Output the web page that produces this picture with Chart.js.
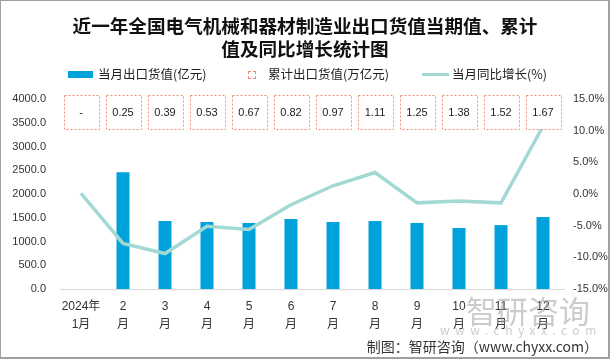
<!DOCTYPE html>
<html>
<head>
<meta charset="utf-8">
<script src="https://cdn.jsdelivr.net/npm/chart.js@4.4.1/dist/chart.umd.min.js"></script>
<style>
  html, body { margin: 0; padding: 0; background: #fff; }
  #wrap { position: relative; width: 610px; height: 359px; overflow: hidden; font-family: 'Noto Sans CJK SC', sans-serif; }
  #frame { position: absolute; left: 0; top: 0; width: 607px; height: 356px; border: 1px solid #a0a0a0; border-width: 1px 2px 2px 1px; pointer-events: none; }
  canvas { position: absolute; left: 0; top: 0; }
  .title { position: absolute; left: 0; width: 610px; text-align: center; font-weight: bold; font-size: 18.6px; color: #111; line-height: 23px; top: 13px; }
  .leg { position: absolute; font-size: 12.5px; color: #222; line-height: 16px; top: 66px; white-space: nowrap; }
  .mark { position: absolute; }
  .foot { position: absolute; right: 12px; top: 336px; font-size: 14px; color: #333; line-height: 20px; white-space: nowrap; }
  .wm { position: absolute; color: rgba(150,155,162,0.5); white-space: nowrap; }
</style>
</head>
<body>
<div id="wrap">
  <canvas id="c" width="610" height="359"></canvas>
  <div class="title">近一年全国电气机械和器材制造业出口货值当期值、累计<br>值及同比增长统计图</div>
  <div class="mark" style="left:68px;top:71px;width:25px;height:7px;background:#00a2dc;"></div>
  <div class="leg" style="left:98px;">当月出口货值(亿元)</div>
  <div class="mark" style="left:248px;top:71px;width:6px;height:6px;border:1px dashed #f08a75;"></div>
  <div class="leg" style="left:268px;">累计出口货值(万亿元)</div>
  <div class="mark" style="left:422px;top:73px;width:27px;height:3px;background:#a3d9d5;"></div>
  <div class="leg" style="left:452px;">当月同比增长(%)</div>
  <div class="wm" style="left:466px;top:292px;font-size:31px;line-height:36px;">智研咨询</div>
  <div class="wm" style="left:440px;top:323px;font-size:12px;letter-spacing:5.5px;line-height:14px;">www.chyxx.com</div>
  <div class="foot">制图：智研咨询（www.chyxx.com）</div>
  <div id="frame"></div>
</div>
<script>
const categories = [['2024年','1月'],['2','月'],['3','月'],['4','月'],['5','月'],['6','月'],['7','月'],['8','月'],['9','月'],['10','月'],['11','月'],['12','月']];
const monthlyValue = [null, 2460, 1430, 1410, 1390, 1475, 1410, 1430, 1390, 1285, 1345, 1515];
const cumulativeValue = ['-', '0.25', '0.39', '0.53', '0.67', '0.82', '0.97', '1.11', '1.25', '1.38', '1.52', '1.67'];
const yoyGrowth = [0.1, -7.8, -9.4, -5.1, -5.6, -1.7, 1.3, 3.4, -1.4, -1.1, -1.4, 10.7];
const leftTicks = [0, 500, 1000, 1500, 2000, 2500, 3000, 3500, 4000];
const rightTicks = [-15, -10, -5, 0, 5, 10, 15];

const boxPlugin = {
  id: 'cumBoxes',
  afterDatasetsDraw(chart) {
    const ctx = chart.ctx;
    const xs = chart.scales.x;
    ctx.save();
    cumulativeValue.forEach((v, i) => {
      const cx = xs.getPixelForValue(i);
      const w = 35, h = 34, top = 95;
      ctx.fillStyle = '#fff';
      ctx.fillRect(cx - w / 2, top, w, h);
      ctx.setLineDash([2, 2]);
      ctx.strokeStyle = '#f08a75';
      ctx.lineWidth = 1;
      ctx.strokeRect(Math.round(cx - w / 2) + 0.5, top + 0.5, w, h);
      ctx.setLineDash([]);
      ctx.fillStyle = '#222';
      ctx.font = '11px "Liberation Sans", "Noto Sans CJK SC", sans-serif';
      ctx.textAlign = 'center';
      ctx.textBaseline = 'middle';
      ctx.fillText(v, cx, top + h / 2 + 1);
    });
    ctx.restore();
  }
};

new Chart(document.getElementById('c'), {
  data: {
    labels: categories,
    datasets: [
      {
        type: 'line', label: '当月同比增长(%)', data: yoyGrowth, yAxisID: 'y1',
        borderColor: '#a3d9d5', borderWidth: 3.5, pointRadius: 0, tension: 0, order: 0
      },
      {
        type: 'bar', label: '当月出口货值(亿元)', data: monthlyValue, yAxisID: 'y',
        backgroundColor: '#00a2dc', barPercentage: 0.31, categoryPercentage: 1, order: 1
      }
    ]
  },
  options: {
    responsive: false,
    animation: false,
    layout: { padding: { top: 99, left: 0, right: 0, bottom: 0 } },
    plugins: { legend: { display: false }, tooltip: { enabled: false }, title: { display: false } },
    scales: {
      x: {
        grid: { display: false, drawTicks: false },
        border: { display: true, color: '#d9d9d9', width: 1 },
        ticks: {
          color: '#333', padding: 9, maxRotation: 0, autoSkip: false,
          font: { family: '"Liberation Sans", "Noto Sans CJK SC", sans-serif', size: 12, lineHeight: 1.5 }
        },
        afterFit(s) { s.height = 70; }
      },
      y: {
        position: 'left', min: 0, max: 4000,
        grid: { display: false, drawTicks: false },
        border: { display: false },
        afterBuildTicks(s) { s.ticks = leftTicks.map(v => ({ value: v })); },
        ticks: {
          color: '#333', padding: 14,
          font: { family: '"Liberation Sans", sans-serif', size: 11 },
          callback: v => Number(v).toFixed(1)
        },
        afterFit(s) { s.width = 60; }
      },
      y1: {
        position: 'right', min: -15, max: 15,
        grid: { display: false, drawTicks: false },
        border: { display: false },
        afterBuildTicks(s) { s.ticks = rightTicks.map(v => ({ value: v })); },
        ticks: {
          color: '#333', padding: 9,
          font: { family: '"Liberation Sans", sans-serif', size: 11 },
          callback: v => Number(v).toFixed(1) + '%'
        },
        afterFit(s) { s.width = 46; }
      }
    }
  },
  plugins: [boxPlugin]
});
</script>
</body>
</html>
